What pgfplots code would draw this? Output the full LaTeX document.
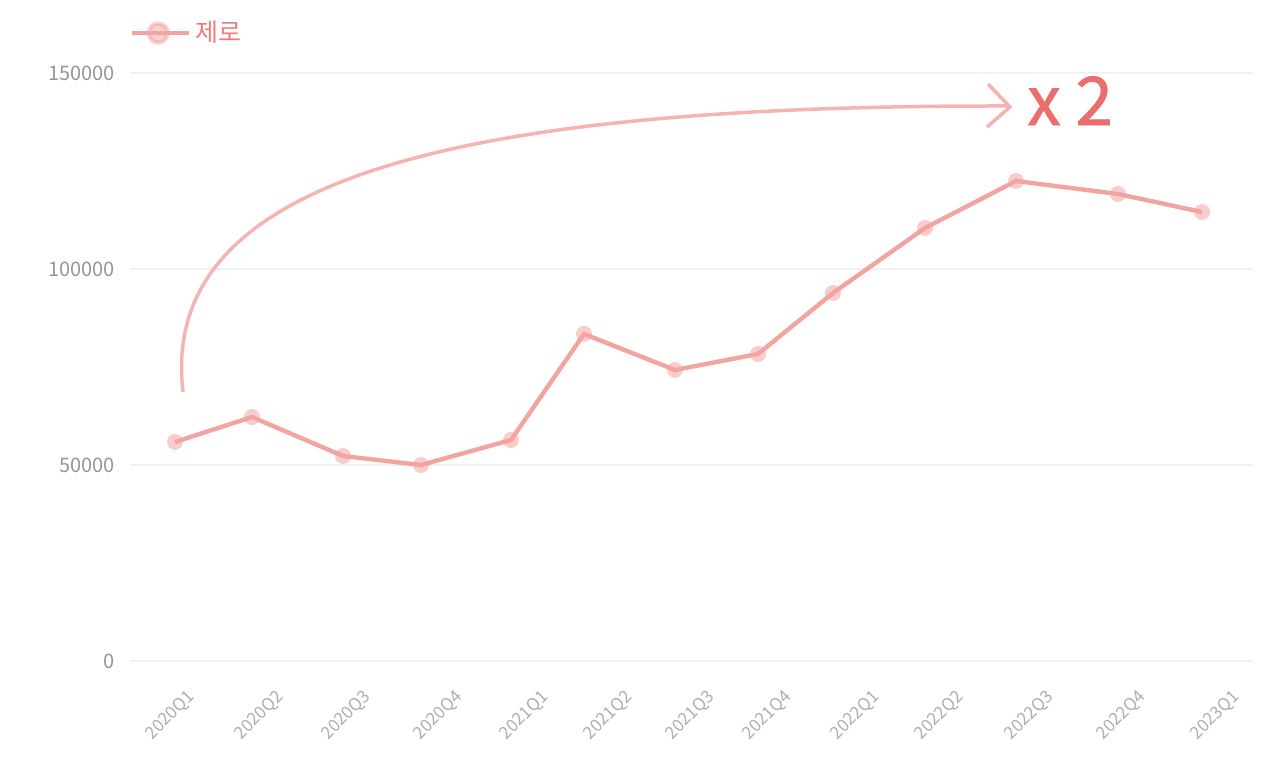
\documentclass[border=0pt]{standalone}
\usepackage{fontspec}
\setmainfont{Noto Sans CJK KR}
\newfontfamily\accentfont[FakeBold=1.3]{Noto Sans CJK KR}
\usepackage{pgfplots}
\pgfplotsset{compat=1.18}
\definecolor{linec}{RGB}{242,164,161}
\definecolor{arrowc}{RGB}{245,180,178}
\definecolor{accent}{RGB}{236,110,108}
\definecolor{legtext}{RGB}{238,125,121}
\definecolor{gridc}{RGB}{240,242,242}
\definecolor{tickc}{RGB}{150,150,150}
\definecolor{xtickc}{RGB}{175,175,175}
\begin{document}
\begin{tikzpicture}
% 1px of the reference = 0.5pt
\useasboundingbox (0,0) rectangle (640pt,383pt);
\begin{axis}[
at={(65pt,52.5pt)}, anchor=south west,
scale only axis, width=561.5pt, height=294pt,
xmin=130, xmax=1253, ymin=0, ymax=150000,
clip=false,
axis line style={draw=none},
major tick length=0pt,
scaled y ticks=false,
ytick={0,50000,100000,150000},
yticklabels={0,50000,100000,150000},
ymajorgrids,
grid style={gridc, line width=0.6pt},
xtick={196,285,372,464,550,634,716,793,881,965,1055,1147,1241},
xticklabels={2020Q1,2020Q2,2020Q3,2020Q4,2021Q1,2021Q2,2021Q3,2021Q4,2022Q1,2022Q2,2022Q3,2022Q4,2023Q1},
yticklabel style={font=\fontsize{10}{12}\selectfont, text=tickc, anchor=east, inner sep=0pt, xshift=-7.5pt},
xticklabel style={font=\fontsize{8.6}{10}\selectfont, text=xtickc, xshift=-5pt, yshift=-13.5pt, rotate=45, anchor=north east, inner sep=0pt},
legend style={draw=none, fill=none, inner sep=0pt, outer sep=0pt,
  at={(rel axis cs:0,1)}, anchor=west, yshift=20pt,
  font=\fontsize{12.5}{14}\selectfont, text=legtext},
legend image code/.code={
  \draw[linec, line width=2pt] (0pt,0pt) -- (26.5pt,0pt);
  \fill[linec, opacity=0.5] (13pt,0pt) circle (4.75pt);
  \path (0pt,0pt) -- (28.5pt,0pt);
},
]
% hand-drawn style annotation arrow
\draw[arrowc, line width=1.75pt] (axis cs:183,68620)
  .. controls (axis cs:158,122700) and (axis cs:450,141840) .. (axis cs:1008,141580);
\addplot[arrowc, line width=1.75pt, sharp plot, forget plot] coordinates {
(988,147190) (1010,141330) (987,136220)};
\node[anchor=base west, inner sep=0pt, text=accent, font=\accentfont\fontsize{33.5}{36}\selectfont]
  at (axis cs:1027,136730) {x 2};
% series
\addplot[linec, line width=2.2pt, mark=*, mark size=4pt,
  mark options={solid, draw opacity=0, fill=linec, fill opacity=0.55}] coordinates {
(175,55870) (252,62240) (343,52300) (421,50000) (511,56380) (584,83420)
(675,74240) (758,78320) (833,93880) (925,110460) (1016,122450) (1118,119130)
(1202,114540)};
\addlegendentry{제로}
\end{axis}
\end{tikzpicture}
\end{document}
